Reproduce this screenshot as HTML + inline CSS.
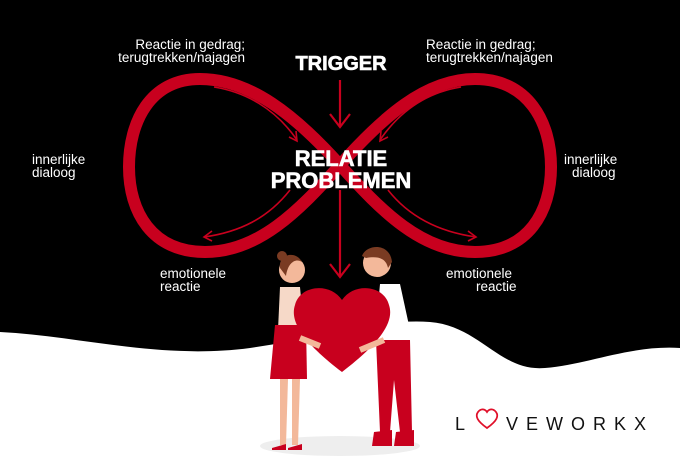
<!DOCTYPE html>
<html><head><meta charset="utf-8"><style>
html,body{margin:0;padding:0;background:#000;}
svg{display:block}
text{font-family:"Liberation Sans",sans-serif;}
</style></head><body>
<svg width="680" height="472" viewBox="0 0 680 472" xmlns="http://www.w3.org/2000/svg">
<rect width="680" height="472" fill="#000"/>
<path d="M0,332 C80,336 160,360 250,348 C320,338 380,318 430,322 C480,326 500,372 545,368 C590,364 630,345 680,348 L680,472 L0,472Z" fill="#fff"/>
<path d="M340,165 C295,115 250,79 200,79 C150,79 129,122 129,167 C129,212 152,252 205,252 C258,252 298,212 340,165 C382,118 425,79 475,79 C528,79 551,122 551,167 C551,212 528,252 475,252 C422,252 382,212 340,165Z" fill="none" stroke="#c8001e" stroke-width="12"/>
<g fill="none" stroke="#c8001e" stroke-width="1.6">
<path d="M214,87 C245,92 275,108 297,140"/><path d="M289,137 L297,141 L296,131"/>
<path d="M461,87 C430,92 402,108 380,140"/><path d="M388,137 L380,141 L381,131"/>
<path d="M290,190 C268,218 240,232 204,237"/><path d="M212,231 L204,237 L212,241"/>
<path d="M388,190 C410,218 440,232 476,237"/><path d="M468,231 L476,237 L468,241"/>
</g>
<g stroke="#c8001e" stroke-width="2.2" fill="none">
<line x1="340" y1="80" x2="340" y2="126"/><path d="M330,114 L340,127 L350,114"/>
<line x1="340" y1="190" x2="340" y2="276"/><path d="M330,264 L340,277 L350,264"/>
</g>
<text x="341" y="70" fill="#fff" font-size="20" font-weight="bold" text-anchor="middle" stroke="#fff" stroke-width="0.6">TRIGGER</text>
<text x="341" y="166" fill="#fff" font-size="22" font-weight="bold" text-anchor="middle" stroke="#fff" stroke-width="0.6">RELATIE</text>
<text x="341" y="188" fill="#fff" font-size="22" font-weight="bold" text-anchor="middle" stroke="#fff" stroke-width="0.6">PROBLEMEN</text>
<g fill="#fff" font-size="13.5">
<text x="245" y="49" text-anchor="end">Reactie in gedrag;</text>
<text x="245" y="62" text-anchor="end">terugtrekken/najagen</text>
<text x="426" y="49">Reactie in gedrag;</text>
<text x="426" y="62">terugtrekken/najagen</text>
<text x="32" y="164">innerlijke</text>
<text x="32" y="177">dialoog</text>
<text x="564" y="164">innerlijke</text>
<text x="572" y="177">dialoog</text>
<text x="160" y="278">emotionele</text>
<text x="160" y="291">reactie</text>
<text x="446" y="278">emotionele</text>
<text x="476" y="291">reactie</text>
</g>
<ellipse cx="340" cy="446" rx="80" ry="10" fill="#eee"/>
<circle cx="292" cy="270" r="13" fill="#f3b89a"/>
<path d="M280,268 C278,254 296,250 302,262 C296,258 288,262 286,276 Z" fill="#7a3b22"/>
<circle cx="282" cy="256" r="5" fill="#7a3b22"/>
<path d="M280,287 L300,287 L304,330 L278,330Z" fill="#f6d9c8"/>
<path d="M275,325 L306,325 L307,379 L270,379Z" fill="#c8001e"/>
<path d="M280,379 L288,379 L286,445 L280,445Z" fill="#f3b89a"/>
<path d="M292,379 L300,379 L298,445 L292,445Z" fill="#f3b89a"/>
<path d="M272,448 L286,444 L286,450 L272,450Z" fill="#c8001e"/>
<path d="M288,448 L302,444 L302,450 L288,450Z" fill="#c8001e"/>
<circle cx="377" cy="263" r="14" fill="#f3b89a"/>
<path d="M362,256 C366,244 390,242 392,262 L388,268 C386,258 378,256 366,258Z" fill="#7a3b22"/>
<path d="M380,284 L400,284 L410,330 L375,340Z" fill="#fff"/>
<path d="M376,340 L410,340 L412,432 L400,432 L394,380 L390,432 L380,432Z" fill="#c8001e"/>
<path d="M374,432 L392,430 L392,446 L372,446Z" fill="#c8001e"/>
<path d="M396,432 L414,430 L414,446 L394,446Z" fill="#c8001e"/>
<path d="M342,372 C300,340 290,320 295,305 C300,285 330,282 342,300 C354,282 384,285 389,305 C394,320 384,340 342,372Z" fill="#c8001e"/>
<path d="M300,338 L320,346 M360,350 L384,340" stroke="#f3b89a" stroke-width="6"/>
<rect x="445" y="390" width="215" height="65" fill="#fff"/>
<text x="455" y="430" font-size="18" fill="#111">L</text>
<path d="M487,428 C477,421 475,416 478,412 C481,408 485,409 487,412 C489,409 493,408 496,412 C499,416 497,421 487,428Z" fill="none" stroke="#e0102a" stroke-width="1.8"/>
<text x="506" y="430" font-size="18" fill="#111" letter-spacing="8">VEWORKX</text>
</svg>
</body></html>
